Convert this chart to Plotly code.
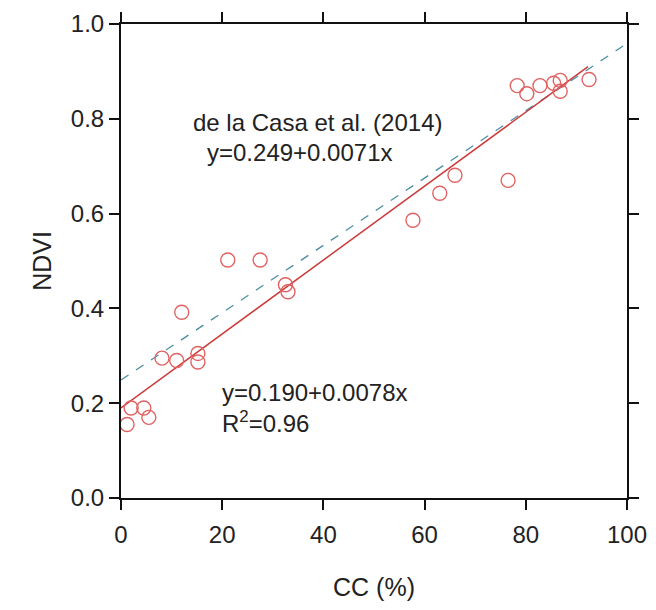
import plotly.graph_objects as go

# Observed data (CC %, NDVI)
cc = [1.2, 2.0, 4.5, 5.5, 8.1, 11.0, 12.0, 15.2, 15.2, 21.1, 27.5, 32.5, 33.0,
      57.7, 63.0, 66.0, 76.5, 78.3, 80.2, 82.8, 85.5, 86.8, 86.8, 92.5]
ndvi = [0.155, 0.19, 0.19, 0.17, 0.295, 0.29, 0.392, 0.305, 0.287, 0.502, 0.502,
        0.45, 0.435, 0.586, 0.643, 0.681, 0.670, 0.870, 0.853, 0.870, 0.875,
        0.881, 0.858, 0.883]

# Regression lines
fit_intercept, fit_slope = 0.190, 0.0078
fit_x = [0, 92.3]
ref_intercept, ref_slope = 0.249, 0.0071
ref_x = [0, 100]

x_ticks = [0, 20, 40, 60, 80, 100]
y_ticks = [0.0, 0.2, 0.4, 0.6, 0.8, 1.0]
y_tick_labels = ["0.0", "0.2", "0.4", "0.6", "0.8", "1.0"]

FONT = "Arial, Liberation Sans, sans-serif"

fig = go.Figure()
fig.add_trace(go.Scatter(
    x=ref_x, y=[ref_intercept + ref_slope * v for v in ref_x],
    mode="lines", line=dict(color="#4a8ea2", width=1.3, dash="dash"),
    showlegend=False))
fig.add_trace(go.Scatter(
    x=fit_x, y=[fit_intercept + fit_slope * v for v in fit_x],
    mode="lines", line=dict(color="#cc3a3a", width=1.5),
    showlegend=False))
fig.add_trace(go.Scatter(
    x=cc, y=ndvi, mode="markers",
    marker=dict(symbol="circle-open", size=14, color="#e06262",
                line=dict(width=1.4)),
    showlegend=False))

ann_font = dict(size=24, color="#222", family=FONT)
fig.add_annotation(x=38.9, y=0.792, text="de la Casa et al. (2014)",
                   showarrow=False, font=ann_font)
fig.add_annotation(x=35.4, y=0.729, text="y=0.249+0.0071x",
                   showarrow=False, font=ann_font)
fig.add_annotation(x=19.6, y=0.223, text="y=0.190+0.0078x", xanchor="left",
                   showarrow=False, font=ann_font)
fig.add_annotation(x=19.6, y=0.160, text="R<sup>2</sup>=0.96", xanchor="left",
                   showarrow=False, font=ann_font)

axis_common = dict(showline=True, linecolor="#111", linewidth=2, mirror="ticks",
                   ticks="outside", ticklen=10, tickwidth=2, tickcolor="#111",
                   showgrid=False, zeroline=False, automargin=False,
                   tickfont=dict(size=24, color="#222", family=FONT))

fig.update_xaxes(range=[0, 100], tickvals=x_ticks, ticklabelstandoff=4,
                 title=dict(text="CC (%)", font=dict(size=25, color="#222", family=FONT),
                            standoff=32),
                 **axis_common)
fig.update_yaxes(range=[0, 1.0], tickvals=y_ticks, ticktext=y_tick_labels,
                 title=dict(text="NDVI", font=dict(size=25, color="#222", family=FONT),
                            standoff=12),
                 **axis_common)

# page body has an 8px margin, so margins compensate for the offset
fig.update_layout(width=656, height=610,
                  margin=dict(l=113, r=37, t=16, b=120),
                  plot_bgcolor="white", paper_bgcolor="white",
                  font=dict(family=FONT))

fig.write_html("out.html")
